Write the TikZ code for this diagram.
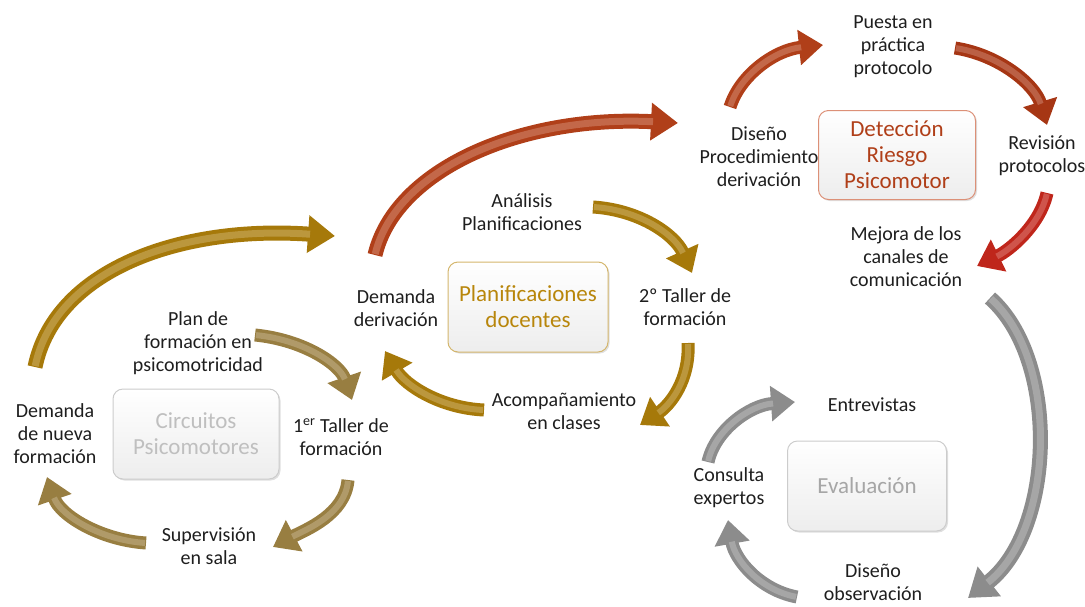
\documentclass[tikz,border=0pt]{standalone}
\usepackage{fontspec}
\setmainfont{Carlito}
\usetikzlibrary{arrows.meta,shadows}
\definecolor{txt}{HTML}{1E1E1E}
\definecolor{goldA}{HTML}{B8860B}
\definecolor{tanA}{HTML}{A98C48}
\definecolor{redA}{HTML}{C4461C}
\definecolor{redB}{HTML}{B83C16}
\definecolor{redC}{HTML}{D42A1E}
\definecolor{grayA}{HTML}{9C9C9C}
\begin{document}
\begin{tikzpicture}[x=1pt,y=-1pt,
  lbl/.style={font=\fontsize{20}{23}\selectfont, align=center, text=txt, inner sep=0pt},
  box/.style={rounded corners=10pt, draw=#1, line width=1pt, top color=white, bottom color=black!7,
    minimum width=160pt, minimum height=90pt, align=center,
    font=\fontsize{23}{26}\selectfont, drop shadow={shadow xshift=1.5pt, shadow yshift=-1.5pt, opacity=0.25}},
  arr/.style={line width=13pt, draw=#1!90!black, -{Triangle[length=24pt,width=34pt]},
    postaction={draw=#1!40!white, line width=6pt, -, shorten >=22pt, shorten <=1pt, draw opacity=0.35}},
  bigarr/.style={line width=15pt, draw=#1!90!black, -{Triangle[length=27pt,width=36pt]},
    postaction={draw=#1!40!white, line width=7pt, -, shorten >=25pt, shorten <=1pt, draw opacity=0.35}}]
\useasboundingbox (0,0) rectangle (1085,606);

% left cycle
\node[lbl] (plan) at (198,343) {Plan de\\formación en\\psicomotricidad};
\node[lbl] (demnueva) at (55,434) {Demanda\\de nueva\\formación};
\node[lbl] (taller1) at (341,437) {1\textsuperscript{er} Taller de\\formación};
\node[lbl] (superv) at (209,546) {Supervisión\\en sala};
\node[box=black!20, text=black!25, minimum width=166pt] (circ) at (196,434) {Circuitos\\Psicomotores};

% middle cycle
\node[lbl] (analisis) at (522,212) {Análisis\\Planificaciones};
\node[lbl] (demderiv) at (396,308) {Demanda\\derivación};
\node[lbl] (taller2) at (685,307) {2º Taller de\\formación};
\node[lbl] (acomp) at (564,411) {Acompañamiento\\en clases};
\node[box=goldA!60, text=goldA] (plani) at (528,307) {Planificaciones\\docentes};

% top right cycle
\node[lbl] (puesta) at (893,47) {Puesta en\\práctica\\protocolo};
\node[lbl] (diseno) at (759,157) {Diseño\\Procedimiento\\derivación};
\node[lbl] (revision) at (1042,156) {Revisión\\protocolos};
\node[lbl] (mejora) at (906,257) {Mejora de los\\canales de\\comunicación};
\node[box=redA!60, text=redA!90!black, minimum width=157pt, minimum height=89pt] (detec) at (897,155) {Detección\\Riesgo\\Psicomotor};

% bottom right cycle
\node[lbl] (entrev) at (872,405) {Entrevistas};
\node[lbl] (consulta) at (729,488) {Consulta\\expertos};
\node[lbl] (disobs) at (873,582) {Diseño\\observación};
\node[box=black!20, text=black!35, minimum width=159pt] (eval) at (867,486) {Evaluación};

% left arrows
\draw[bigarr=goldA] ([shift={(-20,-67)}]demnueva.center) .. controls (55,270) and (180,225) .. ([shift={(-61,-72)}]demderiv.center);
\draw[arr=tanA] ([shift={(57,-8)}]plan.center) .. controls (305,340) and (340,365) .. ([shift={(11,-37)}]taller1.center);
\draw[arr=tanA] ([shift={(7,43)}]taller1.center) .. controls (345,515) and (305,530) .. ([shift={(64,1)}]superv.center);
\draw[arr=tanA] ([shift={(-63,-3)}]superv.center) .. controls (100,540) and (60,515) .. ([shift={(-8,43)}]demnueva.center);

% middle arrows
\draw[bigarr=redA] ([shift={(-21,-53)}]demderiv.center) .. controls (395,170) and (520,115) .. ([shift={(-81,-34)}]diseno.center);
\draw[arr=goldA] ([shift={(71,-5)}]analisis.center) .. controls (640,210) and (675,235) .. ([shift={(7,-34)}]taller2.center);
\draw[arr=goldA] ([shift={(3,36)}]taller2.center) .. controls (690,380) and (670,405) .. ([shift={(76,14)}]acomp.center);
\draw[arr=goldA] ([shift={(-80,-1)}]acomp.center) .. controls (440,408) and (405,385) .. ([shift={(-11,43)}]demderiv.center);

% top right arrows
\draw[arr=redA] ([shift={(-29,-50)}]diseno.center) .. controls (740,75) and (775,50) .. ([shift={(-70,-2)}]puesta.center);
\draw[arr=redB] ([shift={(62,1)}]puesta.center) .. controls (1000,55) and (1035,85) .. ([shift={(5,-31)}]revision.center);
\draw[arr=redC] ([shift={(5,37)}]revision.center) .. controls (1040,225) and (1010,250) .. ([shift={(71,9)}]mejora.center);

% gray arrows
\draw[bigarr=grayA] ([shift={(84,41)}]mejora.center) .. controls (1060,360) and (1055,530) .. ([shift={(95,16)}]disobs.center);
\draw[arr=grayA] ([shift={(-21,-26)}]consulta.center) .. controls (715,430) and (750,405) .. ([shift={(-77,-3)}]entrev.center);
\draw[arr=grayA] ([shift={(-76,15)}]disobs.center) .. controls (760,590) and (735,560) .. ([shift={(-1,32)}]consulta.center);
\end{tikzpicture}
\end{document}
